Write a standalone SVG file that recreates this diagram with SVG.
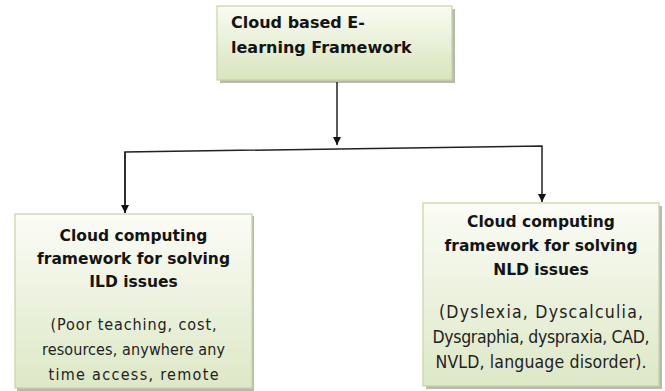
<svg xmlns="http://www.w3.org/2000/svg" width="665" height="391" viewBox="0 0 665 391">
<defs>
<linearGradient id="gTop" x1="0" y1="0" x2="0" y2="1">
<stop offset="0" stop-color="#f9fbf1"/>
<stop offset="1" stop-color="#d8e5bd"/>
</linearGradient>
<linearGradient id="gBox" x1="0" y1="0" x2="0" y2="1">
<stop offset="0" stop-color="#fbfcf6"/>
<stop offset="1" stop-color="#dde8c6"/>
</linearGradient>
<marker id="arr" viewBox="0 0 10 10" refX="10" refY="5" markerWidth="8" markerHeight="8" markerUnits="userSpaceOnUse" orient="auto">
<path d="M0,0 L10,5 L0,10 z" fill="#111"/>
</marker>
</defs>
<style>
.box{stroke:#c4d69e;stroke-width:1.2}
.shadow{fill:#9a9a9a;opacity:0.7}
.bold{font-family:"DejaVu Sans",sans-serif;font-weight:bold;font-size:15.5px;fill:#141414}
.body{font-family:"DejaVu Sans Condensed","DejaVu Sans",sans-serif;font-stretch:condensed;font-size:16px;fill:#222}
.big{font-size:17.5px}
.conn{stroke:#222;stroke-width:1.5;fill:none}
</style>
<rect width="665" height="391" fill="#fff"/>
<g id="node-top">
<rect class="shadow" x="220" y="9" width="235" height="74"/>
<rect class="box" x="217" y="6" width="235" height="74" fill="url(#gTop)"/>
<text class="bold" style="font-size:16px" x="231" y="28">Cloud based E-</text>
<text class="bold" style="font-size:16px" x="231" y="53">learning Framework</text>
</g>
<g id="node-ild">
<rect class="shadow" x="17" y="216" width="237" height="176"/>
<rect class="box" x="15" y="214" width="237" height="174" fill="url(#gBox)"/>
<text class="bold" text-anchor="middle" x="133.5" y="241">Cloud computing</text>
<text class="bold" text-anchor="middle" x="133.5" y="264">framework for solving</text>
<text class="bold" text-anchor="middle" x="133.5" y="287">ILD issues</text>
<text class="body" text-anchor="middle" x="133.5" y="330" textLength="166" lengthAdjust="spacing">(Poor teaching, cost,</text>
<text class="body" text-anchor="middle" x="133.5" y="355" textLength="183" lengthAdjust="spacing">resources, anywhere any</text>
<text class="body" text-anchor="middle" x="133.5" y="380" textLength="170" lengthAdjust="spacing">time access, remote</text>
</g>
<g id="node-nld">
<rect class="shadow" x="426" y="206" width="236" height="183"/>
<rect class="box" x="423" y="203" width="236" height="183" fill="url(#gBox)"/>
<text class="bold" text-anchor="middle" x="541" y="227">Cloud computing</text>
<text class="bold" text-anchor="middle" x="541" y="251">framework for solving</text>
<text class="bold" text-anchor="middle" x="541" y="275">NLD issues</text>
<text class="body big" text-anchor="middle" x="541" y="318" textLength="204" lengthAdjust="spacing">(Dyslexia, Dyscalculia,</text>
<text class="body big" text-anchor="middle" x="541" y="343" textLength="217" lengthAdjust="spacing">Dysgraphia, dyspraxia, CAD,</text>
<text class="body big" text-anchor="middle" x="541" y="368" textLength="211" lengthAdjust="spacing">NVLD, language disorder).</text>
</g>
<g id="connectors">
<line class="conn" x1="337" y1="82" x2="337" y2="145" marker-end="url(#arr)"/>
<polyline class="conn" points="125,213 125,152 542,146 542,202" marker-end="url(#arr)"/>
<line class="conn" x1="125" y1="152" x2="125" y2="213" marker-end="url(#arr)"/>
</g>
</svg>
